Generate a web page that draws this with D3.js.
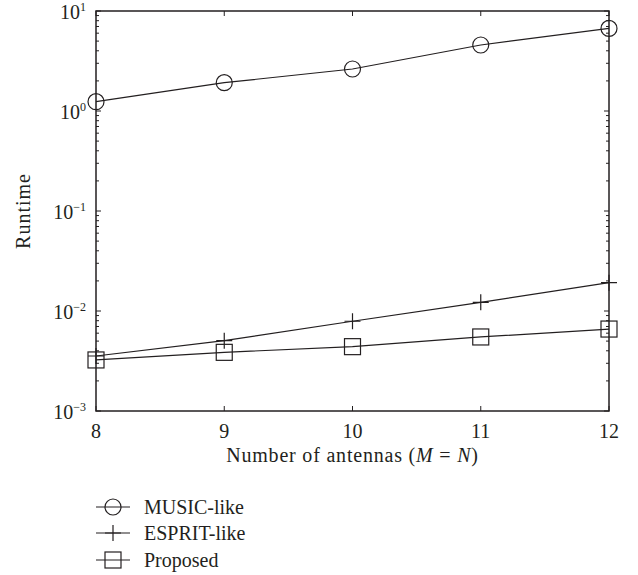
<!DOCTYPE html>
<html>
<head>
<meta charset="utf-8">
<script src="https://cdn.jsdelivr.net/npm/d3@7"></script>
<style>
  body { margin: 0; background: #fff; }
  text { font-family: "Liberation Serif", "DejaVu Serif", serif; fill: #231f20; }
</style>
</head>
<body>
<div id="chart"></div>
<script>
// data
var antennas = [8, 9, 10, 11, 12];
var musicLike = [1.24, 1.92, 2.63, 4.57, 6.7];
var espritLike = [0.00355, 0.00505, 0.0079, 0.0122, 0.0192];
var proposed = [0.00324, 0.00386, 0.0044, 0.0055, 0.0066];
var yDecades = [-3, -2, -1, 0, 1];
var seriesNames = ["MUSIC-like", "ESPRIT-like", "Proposed"];

var margin = { top: 11, right: 29, bottom: 164, left: 96 },
    width = 638 - margin.left - margin.right,
    height = 575 - margin.top - margin.bottom;

var svg = d3.select("#chart").append("svg")
  .attr("width", 638)
  .attr("height", 575);

var g = svg.append("g")
  .attr("transform", "translate(" + margin.left + "," + margin.top + ")");

var x = d3.scaleLinear().domain([8, 12]).range([0, width]);
var y = d3.scaleLog().domain([1e-3, 1e1]).range([height, 0]);

var ink = "#231f20";

// minor + major ticks (inside, on all four sides)
var minorY = [];
yDecades.slice(0, -1).forEach(function(e) {
  for (var k = 2; k <= 9; k++) minorY.push(k * Math.pow(10, e));
});

function sideTicks(vals, len, cls) {
  g.selectAll("." + cls + "l").data(vals).enter().append("line")
    .attr("x1", 0).attr("x2", len)
    .attr("y1", d => y(d)).attr("y2", d => y(d))
    .attr("stroke", ink).attr("stroke-width", 1);
  g.selectAll("." + cls + "r").data(vals).enter().append("line")
    .attr("x1", width).attr("x2", width - len)
    .attr("y1", d => y(d)).attr("y2", d => y(d))
    .attr("stroke", ink).attr("stroke-width", 1);
}
sideTicks(minorY, 3, "mn");
sideTicks(yDecades.map(e => Math.pow(10, e)), 5, "mj");

antennas.forEach(function(a) {
  g.append("line").attr("x1", x(a)).attr("x2", x(a))
    .attr("y1", height).attr("y2", height - 5)
    .attr("stroke", ink).attr("stroke-width", 1);
  g.append("line").attr("x1", x(a)).attr("x2", x(a))
    .attr("y1", 0).attr("y2", 5)
    .attr("stroke", ink).attr("stroke-width", 1);
  g.append("text")
    .attr("x", x(a)).attr("y", height + 27)
    .attr("text-anchor", "middle")
    .style("font-size", "20px")
    .text(a);
});

// y tick labels 10^e
yDecades.forEach(function(e) {
  var t = g.append("text")
    .attr("x", -10).attr("y", y(Math.pow(10, e)) + 8)
    .attr("text-anchor", "end")
    .style("font-size", "20px");
  t.append("tspan").text("10");
  t.append("tspan").attr("dy", -8).style("font-size", "12px")
    .text(e < 0 ? "\u2212" + (-e) : e);
});

// frame
g.append("rect")
  .attr("width", width).attr("height", height)
  .attr("fill", "none").attr("stroke", ink).attr("stroke-width", 1.5);

// axis titles
var xt = g.append("text")
  .attr("x", width / 2).attr("y", height + 51)
  .attr("text-anchor", "middle")
  .style("font-size", "20px")
  .style("letter-spacing", "0.8px");
xt.append("tspan").text("Number of antennas (");
xt.append("tspan").style("font-style", "italic").text("M");
xt.append("tspan").text(" = ");
xt.append("tspan").style("font-style", "italic").text("N");
xt.append("tspan").text(")");

g.append("text")
  .attr("transform", "translate(-66," + (height / 2) + ") rotate(-90)")
  .attr("text-anchor", "middle")
  .style("font-size", "20px")
  .style("letter-spacing", "1px")
  .text("Runtime");

// series
var line = d3.line().x((d, i) => x(antennas[i])).y(d => y(d));
var allSeries = [musicLike, espritLike, proposed];
var markers = ["circle", "plus", "square"];

function drawMarker(sel, type, cx, cy) {
  if (type == "circle") {
    sel.append("circle").attr("cx", cx).attr("cy", cy).attr("r", 8)
      .attr("fill", "none").attr("stroke", ink).attr("stroke-width", 1.2);
  } else if (type == "square") {
    sel.append("rect").attr("x", cx - 8).attr("y", cy - 8)
      .attr("width", 16).attr("height", 16)
      .attr("fill", "none").attr("stroke", ink).attr("stroke-width", 1.2);
  } else {
    sel.append("path")
      .attr("d", "M" + (cx - 8) + "," + cy + "H" + (cx + 8) + "M" + cx + "," + (cy - 8) + "V" + (cy + 8))
      .attr("stroke", ink).attr("stroke-width", 1.2);
  }
}

allSeries.forEach(function(s, k) {
  g.append("path").datum(s)
    .attr("d", line)
    .attr("fill", "none").attr("stroke", ink).attr("stroke-width", 1.2);
  s.forEach(function(v, i) {
    drawMarker(g, markers[k], x(antennas[i]), y(v));
  });
});

// legend
var legendY = [507, 533, 560];
seriesNames.forEach(function(name, k) {
  var ly = legendY[k] - margin.top;
  g.append("line").attr("x1", 0).attr("x2", 34)
    .attr("y1", ly).attr("y2", ly)
    .attr("stroke", ink).attr("stroke-width", 1.2);
  drawMarker(g, markers[k], 17, ly);
  g.append("text")
    .attr("x", 48).attr("y", ly + 7)
    .style("font-size", "20px")
    .text(name);
});
</script>
</body>
</html>
